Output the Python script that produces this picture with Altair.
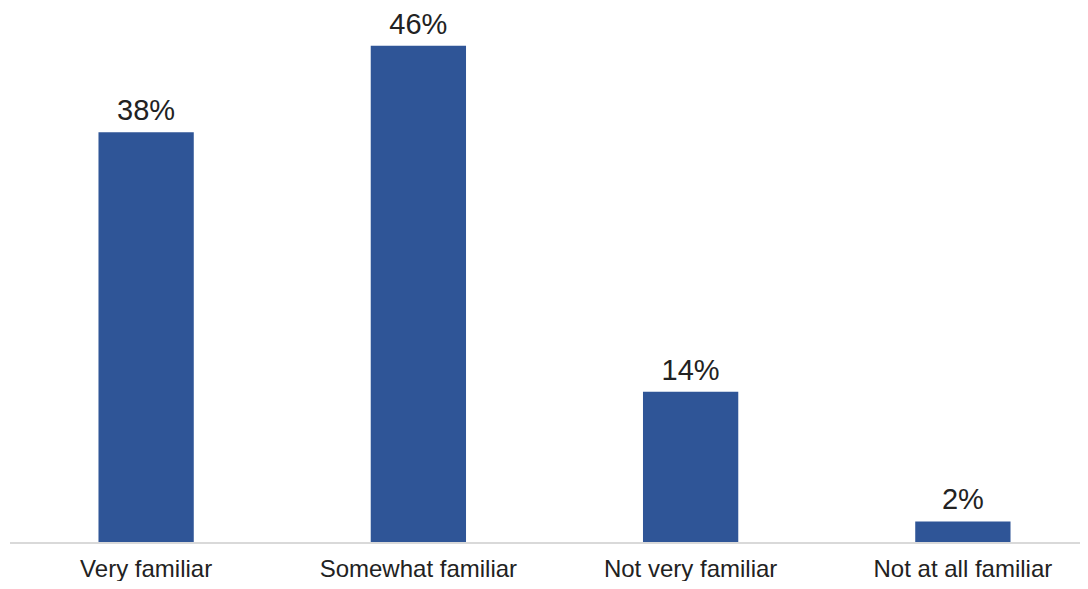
import altair as alt
import pandas as pd

categories = ["Very familiar", "Somewhat familiar", "Not very familiar", "Not at all familiar"]
values = [38, 46, 14, 2]
labels = ["38%", "46%", "14%", "2%"]

df = pd.DataFrame({"cat": categories, "val": values, "lab": labels})

W = 1070
H = 535

x = alt.X("cat:N", sort=categories, title=None,
          scale=alt.Scale(range=[0, 1089], paddingInner=0.65, paddingOuter=0.325),
          axis=alt.Axis(domain=False, ticks=False, labelAngle=0, labelFontSize=24,
                        labelFont="Liberation Sans", labelColor="#222222",
                        labelPadding=14, labelLimit=0, grid=False))
y = alt.Y("val:Q", title=None, scale=alt.Scale(domain=[0, 49.5], nice=False), axis=None)

bars = alt.Chart(df).mark_bar(color="#2F5597").encode(x=x, y=y)
text = alt.Chart(df).mark_text(fontSize=29, font="Liberation Sans", color="#222222",
                               baseline="alphabetic", dy=-12).encode(x=x, y=y, text="lab:N")
base = alt.Chart(df).mark_rule(color="#D9D9D9", strokeWidth=1.5).encode(
    x=alt.value(0), x2=alt.value(W), y=alt.value(H))

chart = alt.layer(bars, text, base).properties(
    width=W, height=H,
    background="white",
    autosize=alt.AutoSizeParams(type="none"),
    padding={"left": 2, "right": 0, "top": 0, "bottom": 38}
).configure_view(strokeWidth=0, stroke="transparent")

chart.save("out.html", embed_options={"renderer": "svg", "actions": False})
